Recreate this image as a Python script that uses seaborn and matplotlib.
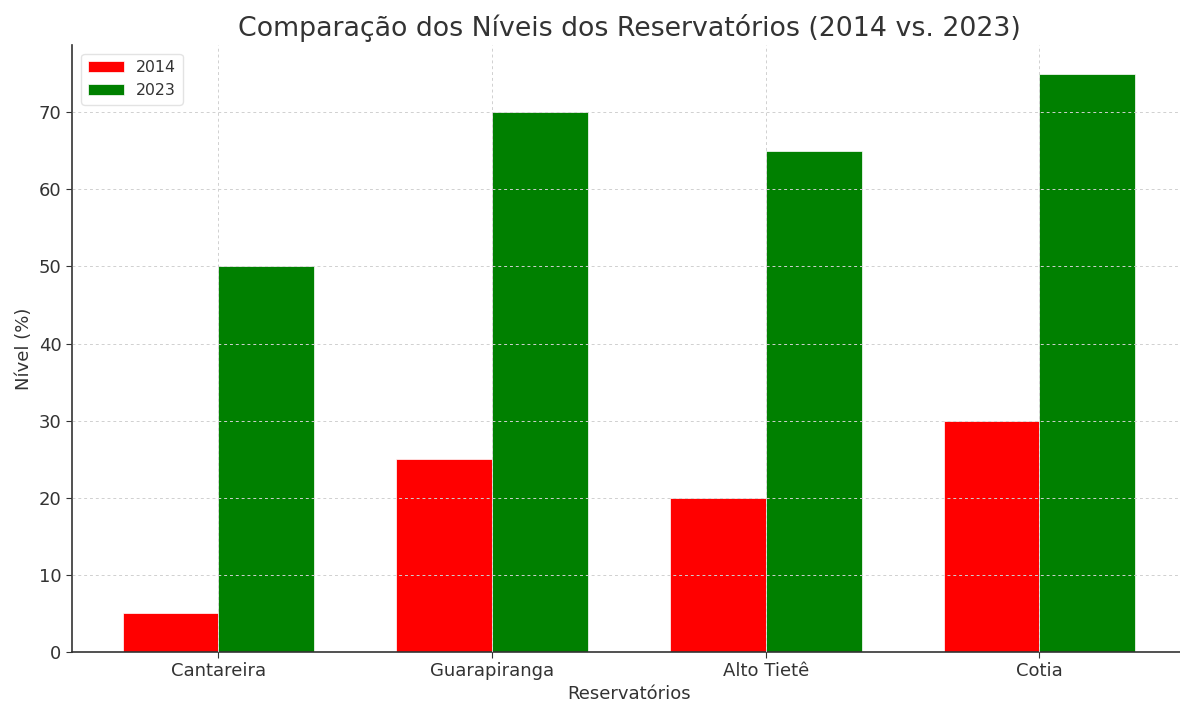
import matplotlib
matplotlib.use("Agg")
import matplotlib.pyplot as plt
import seaborn as sns
import pandas as pd

reservatorios = ["Cantareira", "Guarapiranga", "Alto Tietê", "Cotia"]
niveis_2014 = [5, 25, 20, 30]
niveis_2023 = [50, 70, 65, 75]
anos = ["2014", "2023"]

df = pd.DataFrame({
    "Reservatórios": reservatorios * 2,
    "Nível (%)": niveis_2014 + niveis_2023,
    "Ano": [anos[0]] * 4 + [anos[1]] * 4,
})

sns.set_style("ticks")
plt.rcParams["font.family"] = ["DejaVu Sans"]
plt.rcParams["text.color"] = "#333333"
plt.rcParams["axes.labelcolor"] = "#333333"
plt.rcParams["xtick.color"] = "#333333"
plt.rcParams["ytick.color"] = "#333333"

fig = plt.figure(figsize=(11.8, 7.02), dpi=100)
ax = fig.add_axes([0.061, 0.0712, 0.944, 0.865])

sns.barplot(data=df, x="Reservatórios", y="Nível (%)", hue="Ano",
            palette={"2014": "red", "2023": "green"}, width=0.7, gap=0,
            saturation=1, edgecolor="white", linewidth=0.5, ax=ax, errorbar=None)

ax.set_axisbelow(False)
ax.grid(True, linestyle=(0, (3, 3)), color="#d0d0d0", linewidth=0.7)
ax.set_xlim(-0.535, 3.535)
ax.set_ylim(0, 78.75)
ax.set_yticks([0, 10, 20, 30, 40, 50, 60, 70])
ax.tick_params(labelsize=13, length=4, color="#333333")
ax.set_xlabel("Reservatórios", fontsize=13, labelpad=3)
ax.set_ylabel("Nível (%)", fontsize=13)
ax.set_title("Comparação dos Níveis dos Reservatórios (2014 vs. 2023)", fontsize=19.3, pad=6)
for s in ["top", "right"]:
    ax.spines[s].set_visible(False)
for s in ["left", "bottom"]:
    ax.spines[s].set_color("#333333")
    ax.spines[s].set_linewidth(1.2)

leg = ax.legend(loc="upper left", fontsize=11.3, title=None, frameon=True,
                handlelength=2.3, borderaxespad=0.6)
leg.get_frame().set_edgecolor("#dddddd")

fig.savefig("out.png", dpi=100)
